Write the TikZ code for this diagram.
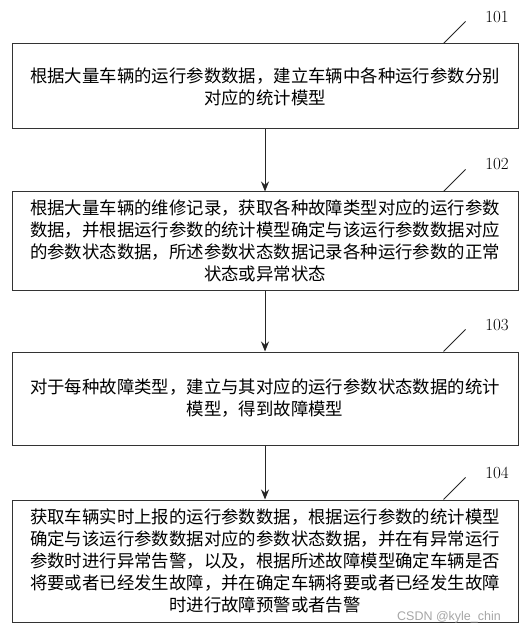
\documentclass[tikz,border=0pt]{standalone}
\usepackage{fontspec}
\usepackage{tikz}
\usetikzlibrary{arrows.meta}
\newfontfamily\cjk{Noto Sans CJK SC}
\newfontfamily\wmfont{Liberation Sans}

\begin{document}
\begin{tikzpicture}[x=1pt, y=-1pt,
	stepbox/.style = {draw=black!80, line width=1pt, minimum width=506pt, align=center, inner sep=0pt, font=\cjk\fontsize{17.4}{22}\selectfont},
	lead/.style = {draw=black!85, line width=0.9pt},
	num/.style = {font=\fontsize{17}{20}\selectfont},
	flow/.style = {-{Stealth[length=10pt, width=8pt]}, draw=black!85, line width=1pt}]
	\useasboundingbox (0,0) rectangle (528,636);
	\node[stepbox, minimum height=85pt] (s1) at (265,86.5) {根据大量车辆的运行参数数据，建立车辆中各种运行参数分别\\对应的统计模型};
	\node[stepbox, minimum height=98pt] (s2) at (265,241) {根据大量车辆的维修记录，获取各种故障类型对应的运行参数\\数据，并根据运行参数的统计模型确定与该运行参数数据对应\\的参数状态数据，所述参数状态数据记录各种运行参数的正常\\状态或异常状态};
	\node[stepbox, minimum height=93pt] (s3) at (265,398.5) {对于每种故障类型，建立与其对应的运行参数状态数据的统计\\模型，得到故障模型};
	\node[stepbox, minimum height=122pt] (s4) at (265,561) {获取车辆实时上报的运行参数数据，根据运行参数的统计模型\\确定与该运行参数数据对应的参数状态数据，并在有异常运行\\参数时进行异常告警，以及，根据所述故障模型确定车辆是否\\将要或者已经发生故障，并在确定车辆将要或者已经发生故障\\时进行故障预警或者告警};
	% step numbers
	\node[num] (n1) at (497,17) {101};
	\node[num] (n2) at (497,164) {102};
	\node[num] (n3) at (497,325) {103};
	\node[num] (n4) at (497,473) {104};
	\foreach \i in {1,...,4} {
		\coordinate (t\i) at ([xshift=-75pt]s\i.north east);
		\draw[lead] (t\i) -- ++(22,-22);
	}
	\draw[flow] (s1) -- (s2);
	\draw[flow] (s2) -- (s3);
	\draw[flow] (s3) -- (s4);
	\node[text=black!35, font=\wmfont\fontsize{12.5}{14}\selectfont] (wm) at (449,617) {CSDN @kyle\_chin};
\end{tikzpicture}
\end{document}
